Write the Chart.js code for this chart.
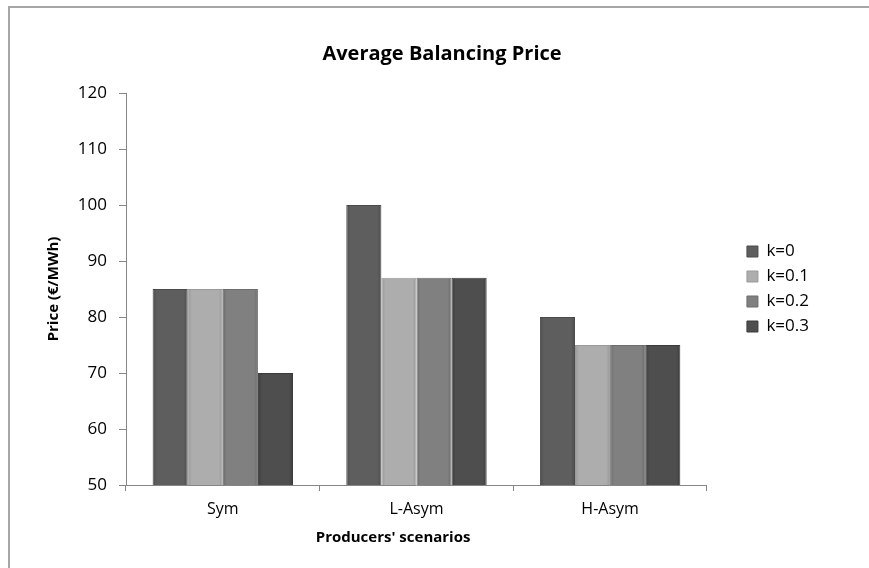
<!DOCTYPE html>
<html>
<head>
<meta charset="utf-8">
<script src="https://cdn.jsdelivr.net/npm/chart.js@4/dist/chart.umd.min.js"></script>
<style>
  html, body { margin: 0; padding: 0; background: #fff; }
  #wrap { position: relative; width: 869px; height: 568px; overflow: hidden; }
  #frame { position: absolute; left: 8px; top: 6px; width: 900px; height: 600px;
           border-top: 2px solid #a6a6a6; border-left: 2px solid #a6a6a6; }
  #chart { position: absolute; left: 0; top: 0; }
</style>
</head>
<body>
<div id="wrap">
  <div id="frame"></div>
  <canvas id="chart" width="869" height="568"></canvas>
</div>
<script>
// ── Data ──
const categories = ['Sym', 'L-Asym', 'H-Asym'];
const seriesNames = ['k=0', 'k=0.1', 'k=0.2', 'k=0.3'];
const priceK0  = [85, 100, 80];
const priceK01 = [85, 87, 75];
const priceK02 = [85, 87, 75];
const priceK03 = [70, 87, 75];
const yMin = 50, yMax = 120, yStep = 10;

// ── Grey shades, one per k ──
const FILLS   = ['#5e5e5e', '#adadad', '#808080', '#4e4e4e'];
const EDGES   = ['#4c4c4c', '#979797', '#6a6a6a', '#3c3c3c'];
const BORDERS = ['#4a4a4a', '#999999', '#6c6c6c', '#3a3a3a'];
const AXIS = '#868686';

Chart.defaults.font.family = "'Open Sans', sans-serif";
Chart.defaults.color = '#000';

const series = [priceK0, priceK01, priceK02, priceK03];

// bevel-ish fill: darker at the bar's left/right edges (needs element geometry)
function barFill(i) {
  return ctx => {
    const el = ctx.element;
    if (!el || !Number.isFinite(el.x) || !Number.isFinite(el.width)) return FILLS[i];
    const x0 = el.x - el.width / 2, x1 = el.x + el.width / 2;
    const g = ctx.chart.ctx.createLinearGradient(x0, 0, x1, 0);
    const e = 4 / el.width;
    g.addColorStop(0, EDGES[i]);
    g.addColorStop(e, FILLS[i]);
    g.addColorStop(1 - e, FILLS[i]);
    g.addColorStop(1, EDGES[i]);
    return g;
  };
}

// spacer axis: takes room on the right without drawing anything
const spacer = (w, weight) => ({
  type: 'linear', position: 'right', display: true, weight,
  grid: { display: false }, border: { display: false }, ticks: { display: false },
  afterFit: s => { s.width = w; },
});

const chart = new Chart(document.getElementById('chart').getContext('2d'), {
  type: 'bar',
  data: {
    labels: categories,
    datasets: series.map((vals, i) => ({
      label: seriesNames[i],
      data: vals,
      backgroundColor: barFill(i),
      borderColor: BORDERS[i],
      borderWidth: 1,
      categoryPercentage: 0.725,
      barPercentage: 1,
    })),
  },
  options: {
    responsive: false,
    animation: false,
    layout: { padding: { left: 15, right: 0, top: 0, bottom: 0 } },
    plugins: {
      title: {
        display: true,
        text: 'Average Balancing Price',
        color: '#000',
        font: { size: 20, weight: 'bold' },
        padding: { top: 42, bottom: 27 },
      },
      legend: {
        position: 'right',
        title: { display: true, text: '', font: { size: 10, lineHeight: 1 }, padding: 0 },
        labels: {
          boxWidth: 11, boxHeight: 11, padding: 8, color: '#000', font: { size: 17 },
          generateLabels: c => seriesNames.map((name, i) => ({
            text: name, fillStyle: FILLS[i], strokeStyle: BORDERS[i], lineWidth: 1,
            datasetIndex: i, hidden: !c.isDatasetVisible(i),
          })),
        },
      },
      tooltip: { enabled: false },
    },
    scales: {
      x: {
        grid: { display: true, drawOnChartArea: false, drawTicks: true, tickLength: 6, color: AXIS },
        border: { display: true, color: AXIS, width: 1 },
        ticks: { padding: 9, color: '#000', font: { size: 16 } },
        title: {
          display: true,
          // trailing spaces nudge the title left, as in the original
          text: "Producers' scenarios" + '\u00a0'.repeat(12),
          color: '#000',
          font: { size: 15, weight: 'bold' }, padding: { top: 0, bottom: 21 },
        },
        afterFit: s => { s.height = 83; },
      },
      y: {
        min: yMin, max: yMax,
        grid: { display: true, drawOnChartArea: false, drawTicks: true, tickLength: 7, color: AXIS },
        border: { display: true, color: AXIS, width: 1 },
        ticks: { stepSize: yStep, padding: 12, color: '#000', font: { size: 17 } },
        title: {
          display: true, text: 'Price (€/MWh)', color: '#000',
          font: { size: 15, weight: 'bold' }, padding: { top: 30, bottom: 0 },
        },
        afterFit: s => { s.width = 111; },
      },
      gapIn: spacer(32, 0),
      gapOut: spacer(50, 2000),
    },
  },
});
// second pass so the fills see the laid-out bar geometry
chart.update();
</script>
</body>
</html>
